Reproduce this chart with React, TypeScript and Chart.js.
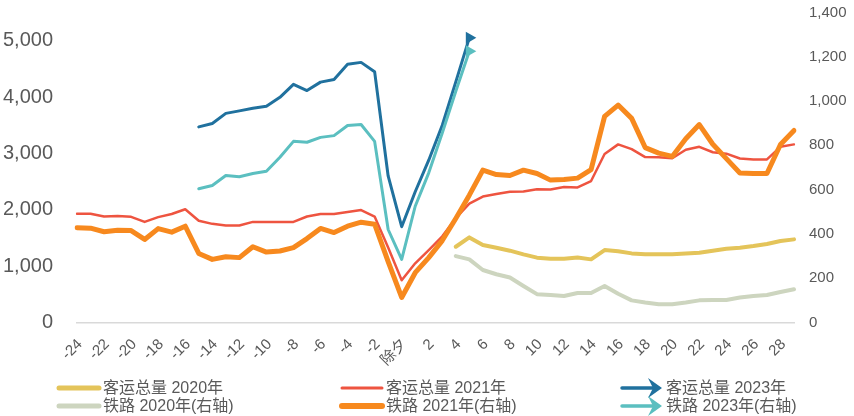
import React, { useEffect, useRef } from 'react';
import { Chart, registerables } from 'chart.js';

Chart.register(...registerables);

const categories = [
  '-24', '-23', '-22', '-21', '-20', '-19', '-18', '-17', '-16', '-15', '-14', '-13',
  '-12', '-11', '-10', '-9', '-8', '-7', '-6', '-5', '-4', '-3', '-2', '-1',
  '除夕', '1', '2', '3', '4', '5', '6', '7', '8', '9', '10', '11', '12', '13', '14',
  '15', '16', '17', '18', '19', '20', '21', '22', '23', '24', '25', '26', '27', '28', '29',
];

const leftTicks = [0, 1000, 2000, 3000, 4000, 5000];
const rightTicks = [0, 200, 400, 600, 800, 1000, 1200, 1400];

const N = null;

// 客运总量 (left axis)
const passenger2020 = [
  N, N, N, N, N, N, N, N, N, N, N, N, N, N, N, N, N, N, N, N, N, N, N, N,
  N, N, N, N, 1344, 1510, 1374, 1327, 1274, 1209, 1150, 1131, 1131, 1152, 1120,
  1285, 1265, 1226, 1209, 1209, 1209, 1226, 1238, 1274, 1309, 1327, 1356, 1392, 1445, 1475,
];
const passenger2021 = [
  1930, 1930, 1880, 1890, 1875, 1785, 1870, 1925, 2010, 1805, 1750, 1720,
  1720, 1785, 1785, 1785, 1785, 1880, 1925, 1925, 1960, 1995, 1880, 1330,
  750, 1050, 1285, 1530, 1850, 2110, 2235, 2280, 2320, 2325, 2365, 2360, 2405, 2397, 2510,
  2990, 3160, 3075, 2935, 2930, 2915, 3065, 3117, 3020, 2995, 2910, 2893, 2893, 3117, 3160,
];
const passenger2023 = [
  N, N, N, N, N, N, N, N, N, 3470, 3530, 3710,
  3755, 3800, 3835, 3995, 4225, 4115, 4265, 4310, 4580, 4615, 4450, 2600,
  1700, 2320, 2880, 3500, 4270, 5050, N, N, N, N, N, N, N, N, N,
  N, N, N, N, N, N, N, N, N, N, N, N, N, N, N,
];

// 铁路 (right axis)
const rail2020 = [
  N, N, N, N, N, N, N, N, N, N, N, N, N, N, N, N, N, N, N, N, N, N, N, N,
  N, N, N, N, 300, 285, 237, 218, 203, 165, 128, 124, 120, 133, 133,
  165, 130, 100, 90, 82, 82, 90, 100, 102, 102, 113, 120, 124, 138, 150,
];
const rail2021 = [
  428, 426, 410, 417, 415, 375, 424, 408, 435, 312, 285, 297,
  293, 342, 318, 323, 338, 379, 425, 406, 435, 453, 444, 275,
  113, 225, 293, 370, 470, 575, 688, 668, 664, 688, 673, 643, 646, 652, 690,
  931, 982, 922, 790, 765, 750, 830, 894, 805, 740, 675, 673, 673, 804, 867,
];
const rail2023 = [
  N, N, N, N, N, N, N, N, N, 604, 619, 664,
  658, 673, 683, 746, 818, 814, 836, 844, 890, 894, 818, 420,
  285, 525, 676, 856, 1044, 1225, N, N, N, N, N, N, N, N, N,
  N, N, N, N, N, N, N, N, N, N, N, N, N, N, N,
];

const seriesNames = [
  '客运总量 2020年', '客运总量 2021年', '客运总量 2023年',
  '铁路 2020年(右轴)', '铁路 2021年(右轴)', '铁路 2023年(右轴)',
];

const FONT = "'Liberation Sans', 'Noto Sans CJK SC', sans-serif";
const TEXT = '#595959';

const lastIndex = (arr: (number | null)[]) => {
  for (let i = arr.length - 1; i >= 0; i--) if (arr[i] !== null) return i;
  return -1;
};

export default function App() {
  const ref = useRef<HTMLCanvasElement>(null);

  useEffect(() => {
    document.body.style.margin = '0';
    const styles = [
      { color: '#E4C45A', width: 4, arrow: false, axis: 'y', data: passenger2020, legendW: 5 },
      { color: '#EE5440', width: 2.5, arrow: false, axis: 'y', data: passenger2021, legendW: 3 },
      { color: '#20719E', width: 3, arrow: true, axis: 'y', data: passenger2023, legendW: 3.5 },
      { color: '#CDD5BF', width: 4, arrow: false, axis: 'y1', data: rail2020, legendW: 5 },
      { color: '#F7891E', width: 5, arrow: false, axis: 'y1', data: rail2021, legendW: 6 },
      { color: '#5BBFC0', width: 3, arrow: true, axis: 'y1', data: rail2023, legendW: 3.5 },
    ];
    const orders = [5, 3, 1, 6, 2, 0];

    const datasets = styles.map((s, i) => {
      const li = lastIndex(s.data);
      return {
        label: seriesNames[i],
        data: s.data,
        yAxisID: s.axis,
        borderColor: s.color,
        backgroundColor: s.color,
        borderWidth: s.width,
        borderJoinStyle: 'round' as const,
        borderCapStyle: 'round' as const,
        tension: 0,
        spanGaps: false,
        order: orders[i],
        pointStyle: 'triangle' as const,
        rotation: 90,
        pointRadius: (ctx: any) => (s.arrow && ctx.dataIndex === li ? 7 : 0),
        pointBorderWidth: 0,
        pointBackgroundColor: s.color,
      };
    });

    const legendCols = [57, 340, 620];
    const legendRows = [388, 406];

    const legendPlugin = {
      id: 'gridLegend',
      afterDraw(chart: any) {
        const ctx = chart.ctx;
        ctx.save();
        styles.forEach((s, i) => {
          const x = legendCols[i % 3];
          const y = legendRows[Math.floor(i / 3)];
          ctx.strokeStyle = s.color;
          ctx.lineCap = 'round';
          ctx.lineJoin = 'round';
          ctx.lineWidth = s.legendW;
          ctx.beginPath();
          ctx.moveTo(x + 2, y);
          ctx.lineTo(x + (s.arrow ? 36 : 42), y);
          ctx.stroke();
          if (s.arrow) {
            ctx.fillStyle = s.color;
            ctx.beginPath();
            ctx.moveTo(x + 28, y - 10);
            ctx.lineTo(x + 42, y);
            ctx.lineTo(x + 28, y + 10);
            ctx.lineTo(x + 33, y);
            ctx.closePath();
            ctx.fill();
          }
          ctx.fillStyle = TEXT;
          ctx.font = `16px ${FONT}`;
          ctx.textAlign = 'left';
          ctx.textBaseline = 'middle';
          ctx.fillText(seriesNames[i], x + 46, y + 1);
        });
        ctx.restore();
      },
    };

    const fmt = (v: any) => Number(v).toLocaleString('en-US');

    const chart = new Chart(ref.current as HTMLCanvasElement, {
      type: 'line',
      data: { labels: categories, datasets: datasets as any },
      options: {
        responsive: false,
        animation: false,
        events: [],
        layout: { padding: { top: 12.5, left: 0, right: 0, bottom: 0 } },
        plugins: {
          legend: { display: false },
          tooltip: { enabled: false },
        },
        scales: {
          x: {
            type: 'category',
            grid: { display: false, drawTicks: false },
            border: { display: true, color: '#D9D9D9', width: 1.5 },
            ticks: {
              autoSkip: false,
              minRotation: 45,
              maxRotation: 45,
              padding: 13,
              labelOffset: 3,
              color: TEXT,
              font: { family: FONT, size: 15 },
              callback: (_v: any, i: number) => (i % 2 === 0 ? categories[i] : ''),
            },
            afterFit: (scale: any) => {
              scale.height = 93.5;
              scale.paddingLeft = 0;
              scale.paddingRight = 0;
            },
          },
          y: {
            position: 'left',
            min: 0,
            max: 5500,
            grid: { display: false, drawTicks: false },
            border: { display: false },
            afterBuildTicks: (scale: any) => {
              scale.ticks = leftTicks.map((v) => ({ value: v }));
            },
            ticks: {
              autoSkip: false,
              padding: 24,
              color: TEXT,
              font: { family: FONT, size: 20 },
              callback: fmt,
            },
            afterFit: (scale: any) => {
              scale.width = 77;
              scale.paddingTop = 0;
              scale.paddingBottom = 0;
            },
          },
          y1: {
            position: 'right',
            min: 0,
            max: 1400,
            grid: { display: false, drawTicks: false },
            border: { display: false },
            afterBuildTicks: (scale: any) => {
              scale.ticks = rightTicks.map((v) => ({ value: v }));
            },
            ticks: {
              autoSkip: false,
              padding: 15,
              color: TEXT,
              font: { family: FONT, size: 15 },
              callback: fmt,
            },
            afterFit: (scale: any) => {
              scale.width = 60;
              scale.paddingTop = 0;
              scale.paddingBottom = 0;
            },
          },
        },
      },
      plugins: [legendPlugin],
    });
    return () => chart.destroy();
  }, []);

  return (
    <div style={{ width: 854, height: 416 }}>
      <canvas ref={ref} width={854} height={416} />
    </div>
  );
}
